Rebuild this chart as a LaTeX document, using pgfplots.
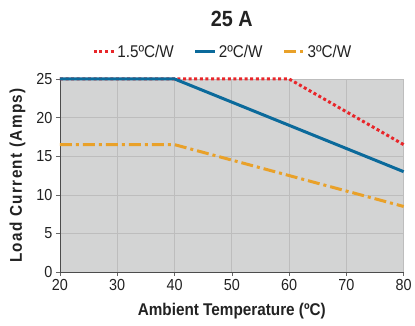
\documentclass[border=0pt]{standalone}
\usepackage{pgfplots}
\pgfplotsset{compat=1.18}
\usepackage{fontspec}
\setmainfont[FakeStretch=0.9]{Liberation Sans}
\newfontfamily\ylabfont[FakeStretch=0.9, LetterSpace=8]{Liberation Sans}
\definecolor{cred}{HTML}{E8262A}
\definecolor{cblue}{HTML}{0B6A9B}
\definecolor{corange}{HTML}{E9A129}
\definecolor{bgfill}{HTML}{D3D4D4}
\definecolor{gridc}{HTML}{BDBDBD}
\definecolor{txt}{HTML}{222222}
\begin{document}
\begin{tikzpicture}
\begin{axis}[
  name=ax,
  scale only axis, width=344pt, height=193.4pt,
  xmin=20, xmax=80, ymin=0, ymax=25,
  xtick={20,30,...,80}, ytick={0,5,...,25},
  axis x line=bottom, axis y line=left,
  axis line style={-, draw=black!70, line width=0.8pt},
  tick align=outside, tick style={draw=black!60, line width=0.6pt},
  major tick length=4pt,
  grid=major, grid style={gridc, line width=0.7pt},
  axis background/.style={fill=bgfill},
  /pgf/number format/assume math mode=true,
  ticklabel style={font=\fontsize{16}{16}\selectfont, text=txt},
  xlabel={\bfseries Ambient Temperature (ºC)},
  ylabel={\ylabfont\bfseries Load Current (Amps)},
  xlabel style={font=\fontsize{17}{17}\selectfont\bfseries, text=txt,
     at={([yshift=-43pt]axis description cs:0.5,0)}, anchor=base},
  ylabel style={font=\fontsize{17}{17}\selectfont\bfseries, text=txt,
     at={([xshift=-38pt]axis description cs:0,0.5)}, anchor=base},
  title={\bfseries 25 A},
  every axis title shift=0pt,
  title style={font=\fontsize{22}{22}\selectfont\bfseries, text=txt,
     at={([yshift=52pt]axis description cs:0.5,1)}, anchor=base},
  legend style={draw=none, fill=none, at={(0.474,1)}, anchor=south, yshift=18pt, legend columns=3,
    font=\fontsize{17}{17}\selectfont, text=txt, inner sep=0pt,
    nodes={inner sep=2pt},
    /tikz/every even column/.append style={column sep=18pt}},
  legend image code/.code={\draw[#1] (0pt,0pt) -- (20pt,0pt);},
  clip=false,
]
\addplot[cred, line width=3pt, dash pattern=on 3pt off 2.6pt] coordinates {(20,25) (60,25) (80,16.5)};
\addlegendentry{1.5ºC/W}
\addplot[cblue, line width=3pt] coordinates {(20,25) (40,25) (80,13)};
\addlegendentry{2ºC/W}
\addplot[corange, line width=3pt, dash pattern=on 12pt off 4pt on 3pt off 4pt] coordinates {(20,16.5) (40,16.5) (80,8.5)};
\addlegendentry{3ºC/W}
\end{axis}
\path ([xshift=-60pt,yshift=-53pt]ax.south west) rectangle ([xshift=11pt,yshift=79pt]ax.north east);
\end{tikzpicture}
\end{document}
